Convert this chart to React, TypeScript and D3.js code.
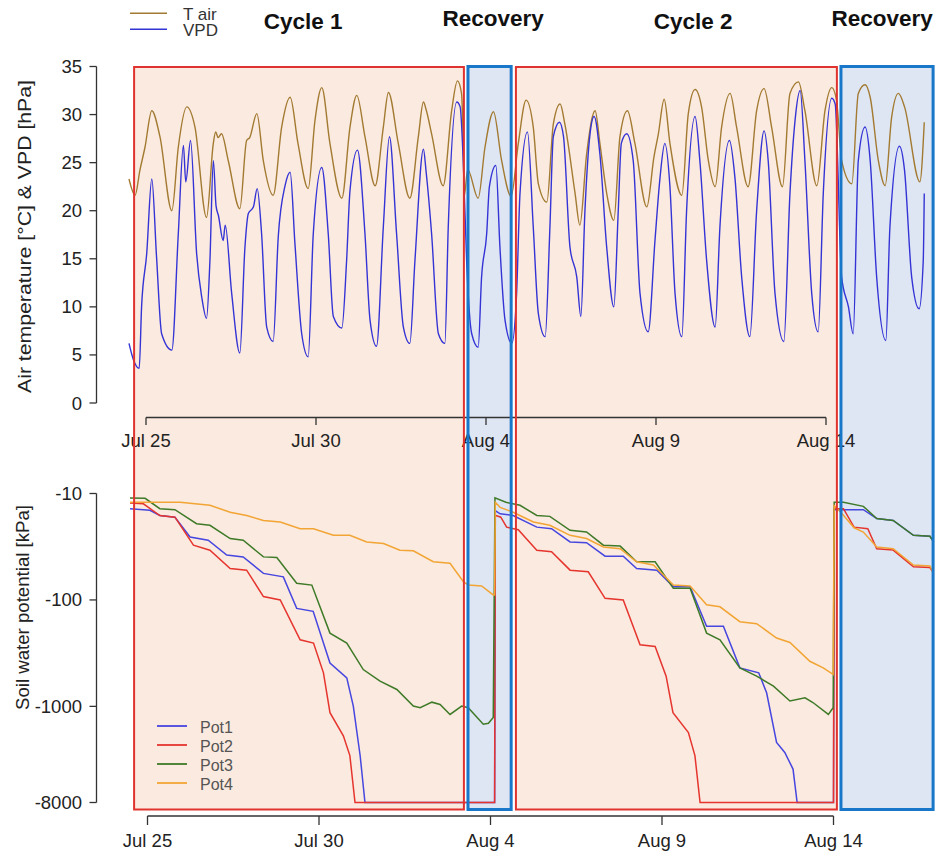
import React from 'react';
import * as d3 from 'd3';

const W = 938;
const H = 854;
const START = new Date(2019, 6, 25);
const toDate = (d: number) => new Date(START.getTime() + d * 86400000);

// time = days since Jul 25 00:00
const tairData: [number, number][] = [
  [-0.5,23.3],[-0.32,21.6],[-0.18,24.2],[-0.03,26.6],[0.17,30.4],[0.41,27.7],[0.76,20.0],[0.95,26.6],[1.2,30.8],[1.44,28.7],[1.78,19.3],[1.98,27.0],[2.05,28.2],[2.12,27.6],[2.22,28.0],[2.42,25.2],[2.76,20.2],[2.96,27.3],[3.05,27.6],[3.26,30.1],[3.45,25.2],[3.74,21.6],[3.99,28.7],[4.24,31.8],[4.47,27.0],[4.77,22.3],[4.97,29.4],[5.17,32.8],[5.41,27.0],[5.76,21.3],[6.0,28.7],[6.2,32.0],[6.44,27.7],[6.74,22.6],[6.98,28.7],[7.13,32.3],[7.42,27.0],[7.76,21.3],[8.01,27.7],[8.16,31.3],[8.24,30.5],[8.4,28.0],[8.74,22.6],[8.99,30.4],[9.16,33.5],[9.28,32.2],[9.33,27.0],[9.36,21.5],[9.46,24.3],[9.77,21.3],[9.97,26.6],[10.22,30.3],[10.46,25.2],[10.74,21.5],[10.95,27.0],[11.18,31.5],[11.39,28.7],[11.54,22.8],[11.79,20.9],[11.98,29.0],[12.18,31.1],[12.32,29.0],[12.62,21.8],[12.76,18.5],[12.96,25.9],[13.21,30.4],[13.35,27.0],[13.55,21.8],[13.76,19.0],[13.94,27.7],[14.16,30.4],[14.38,27.0],[14.73,20.4],[14.94,25.6],[15.07,28.0],[15.24,31.6],[15.41,27.0],[15.76,21.6],[15.95,30.1],[16.15,32.6],[16.34,30.8],[16.54,25.2],[16.74,22.5],[16.93,28.7],[17.18,32.2],[17.37,28.7],[17.71,22.5],[17.96,30.4],[18.18,32.7],[18.4,28.7],[18.72,22.5],[18.94,32.2],[19.19,33.4],[19.38,30.4],[19.73,22.6],[19.97,30.4],[20.17,32.8],[20.31,31.5],[20.46,25.2],[20.76,22.8],[20.95,32.2],[21.15,33.1],[21.3,31.8],[21.54,25.2],[21.74,22.6],[21.93,29.7],[22.13,32.2],[22.31,30.8],[22.76,23.0],[22.89,29.2],
];

const vpdData: [number, number][] = [
  [-0.5,6.2],[-0.37,4.5],[-0.2,3.6],[-0.13,10.0],[0.02,15.5],[0.17,23.3],[0.31,15.2],[0.46,7.2],[0.76,5.5],[0.95,17.6],[1.1,26.8],[1.17,23.0],[1.31,27.3],[1.49,15.5],[1.64,11.0],[1.78,8.8],[1.88,14.8],[1.98,25.2],[2.06,20.5],[2.13,19.5],[2.27,16.9],[2.33,18.5],[2.52,11.4],[2.76,5.2],[2.91,16.2],[3.01,19.7],[3.16,20.4],[3.27,22.3],[3.4,17.6],[3.55,7.9],[3.74,6.4],[3.89,17.3],[4.09,22.6],[4.24,24.0],[4.38,16.6],[4.58,7.2],[4.77,4.8],[4.92,17.6],[5.17,24.5],[5.36,17.6],[5.51,9.0],[5.76,7.8],[5.9,14.8],[6.0,22.1],[6.22,26.3],[6.44,17.6],[6.59,8.6],[6.78,5.9],[6.98,18.3],[7.16,27.7],[7.37,17.6],[7.57,7.9],[7.76,6.2],[7.91,14.8],[8.16,26.4],[8.24,24.0],[8.4,17.6],[8.6,7.2],[8.79,6.2],[8.89,18.3],[9.14,31.3],[9.24,30.8],[9.33,25.2],[9.43,14.8],[9.58,7.2],[9.77,5.8],[9.87,13.1],[10.02,17.6],[10.1,22.5],[10.29,24.7],[10.41,16.2],[10.56,8.6],[10.76,6.2],[10.9,11.4],[11.0,21.8],[11.22,28.2],[11.39,18.3],[11.54,9.3],[11.74,6.9],[11.88,18.3],[11.98,27.7],[12.16,29.2],[12.28,27.7],[12.47,16.2],[12.67,13.1],[12.79,9.0],[12.91,20.0],[13.06,28.0],[13.18,29.8],[13.35,25.9],[13.55,16.2],[13.76,10.0],[13.89,20.0],[13.98,27.0],[14.14,28.0],[14.33,25.2],[14.53,11.4],[14.77,7.4],[14.97,16.9],[15.12,23.5],[15.26,27.0],[15.41,22.5],[15.56,11.4],[15.76,6.9],[15.9,20.0],[16.15,29.8],[16.29,25.2],[16.49,14.8],[16.74,7.9],[16.88,18.3],[17.16,27.3],[17.32,23.5],[17.52,13.1],[17.76,6.9],[17.96,20.0],[18.18,28.3],[18.3,25.2],[18.5,11.4],[18.76,6.4],[18.94,21.8],[19.09,29.4],[19.24,32.5],[19.38,25.2],[19.58,11.4],[19.77,7.4],[19.92,21.8],[20.17,31.7],[20.27,31.1],[20.46,13.1],[20.66,10.0],[20.8,7.2],[20.95,25.2],[21.15,28.7],[21.3,25.2],[21.49,13.1],[21.76,6.5],[21.88,18.3],[22.16,26.7],[22.31,24.2],[22.52,13.1],[22.74,9.8],[22.86,14.8],[22.89,21.8],
];

// soil water potential magnitude [kPa] (plotted as negative)
const pot1Data: [number, number][] = [
  [-0.51,13.9],[0.07,14.4],[0.36,16.1],[0.8,16.7],[1.24,25.6],[1.77,27.5],[2.31,37.9],[2.79,39.4],[3.38,56.3],[3.96,60.7],[4.35,120],[4.83,128],[5.32,391],[5.81,540],[6.0,993],[6.2,2910],[6.34,8000],[10.12,8000],[10.14,14.5],[10.28,15.5],[10.66,16.1],[11.35,20.7],[11.78,21.4],[12.32,28.5],[12.8,29.0],[13.34,38.8],[13.87,38.8],[14.26,50.6],[14.85,52.5],[15.33,75],[15.82,75],[16.3,177],[16.79,177],[17.27,435],[17.82,484],[18.05,745],[18.34,2180],[18.58,2710],[18.82,3880],[18.94,8000],[20.0,8000],[20.02,14.2],[20.87,14.2],[21.26,17.2],[21.74,17.9],[22.33,24.7],[22.81,25.2],[22.89,27.5],
];
const pot2Data: [number, number][] = [
  [-0.51,12.3],[-0.12,12.5],[0.36,16.1],[0.8,16.7],[1.34,30.6],[1.82,34.1],[2.41,50.6],[2.89,52.5],[3.38,93],[3.87,100],[4.45,237],[4.84,254],[5.13,484],[5.32,1145],[5.71,1890],[5.9,2900],[6.05,8000],[10.12,8000],[10.14,16.0],[10.3,16.7],[10.47,20.7],[10.81,21.9],[11.35,34.1],[11.78,35.3],[12.32,52.5],[12.85,54.4],[13.34,96.5],[13.87,100],[14.36,264],[14.8,274],[15.12,520],[15.32,1145],[15.77,1760],[15.96,2900],[16.11,8000],[20.0,8000],[20.02,13.9],[20.29,13.9],[20.6,20.7],[21.0,21.4],[21.26,33],[21.74,34],[22.33,48.8],[22.81,49.6],[22.89,54],
];
const pot3Data: [number, number][] = [
  [-0.51,11.0],[-0.07,11.1],[0.36,13.9],[0.8,14.2],[1.43,19.2],[1.82,19.9],[2.41,26.5],[2.79,27.5],[3.38,39.4],[3.77,40],[4.35,69.8],[4.79,72.5],[5.32,205],[5.81,254],[6.29,451],[6.78,580],[7.27,694],[7.75,993],[7.95,1030],[8.29,913],[8.53,960],[8.82,1190],[9.16,993],[9.35,1030],[9.79,1470],[9.94,1440],[10.08,1270],[10.13,11.0],[10.45,12.1],[10.86,12.9],[11.35,16.1],[11.73,16.4],[12.32,22.2],[12.8,23],[13.29,30.6],[13.78,31.2],[14.26,43.8],[14.8,43.8],[15.33,77.8],[15.82,77.8],[16.3,205],[16.69,237],[17.27,435],[17.76,520],[18.25,645],[18.73,890],[19.17,830],[19.4,920],[19.85,1190],[19.99,1030],[20.02,12.1],[20.29,12.1],[20.87,13.2],[21.26,17.2],[21.74,17.9],[22.33,24.7],[22.81,25.2],[22.89,27.5],
];
const pot4Data: [number, number][] = [
  [-0.51,12.1],[0.95,12.1],[1.82,12.9],[2.41,15.0],[2.89,16.1],[3.38,17.9],[3.87,18.5],[4.45,21.4],[4.84,21.4],[5.42,24.7],[5.9,24.7],[6.39,28.5],[6.88,29.5],[7.36,34.1],[7.75,34.5],[8.33,43.8],[8.82,45.3],[9.21,67.4],[9.35,72.5],[9.74,74],[10.08,89.8],[10.12,89.8],[10.14,12.1],[10.28,13.5],[10.66,15.0],[11.25,18.5],[11.73,19.9],[12.32,24.7],[12.8,26.5],[13.29,31.8],[13.78,33],[14.26,43.8],[14.75,47],[15.33,72.5],[15.82,74],[16.3,111],[16.69,116],[17.27,160],[17.76,167],[18.34,228],[18.73,251],[19.31,377],[19.7,435],[19.99,501],[20.02,13.0],[20.29,16],[20.6,21],[20.87,23],[21.26,31.8],[21.74,33],[22.33,47],[22.81,48],[22.89,54],
];

const topYTicks = [0, 5, 10, 15, 20, 25, 30, 35];
const soilYTicks = [10, 100, 1000, 8000];
const dateTicks = [0, 5, 10, 15, 20];
const dateTickLabels = ['Jul 25', 'Jul 30', 'Aug 4', 'Aug 9', 'Aug 14'];

const periodNames = ['Cycle 1', 'Recovery', 'Cycle 2', 'Recovery'];
const periodKinds = ['drought', 'recovery', 'drought', 'recovery'];
const periodStart = [-0.35, 9.47, 10.88, 20.44];
const periodEnd = [9.35, 10.74, 20.32, 23.15];
const periodTitleAt = [4.62, 10.21, 16.09, 21.65];

const climateNames = ['T air', 'VPD'];
const potNames = ['Pot1', 'Pot2', 'Pot3', 'Pot4'];

const C_TAIR = '#A27A32';
const C_VPD = '#3434D6';
const POT_COLORS = ['#4646E0', '#E5352E', '#3E7A28', '#F2A535'];
const FONT = '"Liberation Sans", Arial, sans-serif';

export default function App() {
  const xTop = d3.scaleTime().domain([toDate(0), toDate(20)]).range([146, 826]);
  const yTop = d3.scaleLinear().domain([0, 35]).range([403, 66.5]);
  const xBot = d3.scaleTime().domain([toDate(0), toDate(20)]).range([147.5, 833.5]);
  const yBot = d3.scaleLog().domain([10, 8000]).range([493.5, 802.5]);

  const topLine = d3
    .line<[number, number]>()
    .x((d) => xTop(toDate(d[0])))
    .y((d) => yTop(d[1]))
    .curve(d3.curveMonotoneX);
  const botLine = d3
    .line<[number, number]>()
    .x((d) => xBot(toDate(d[0])))
    .y((d) => yBot(d[1]));

  const pots = [pot1Data, pot2Data, pot3Data, pot4Data];
  const boxTop = 67;
  const boxBottom = 809.5;
  const axisColor = '#333';

  return (
    <svg
      width={W}
      height={H}
      style={{ position: 'absolute', left: 0, top: 0, background: '#fff' }}
      fontFamily={FONT}
    >
      {periodStart.map((s, i) => {
        const x0 = xTop(toDate(s));
        const x1 = xTop(toDate(periodEnd[i]));
        return (
          <rect
            key={'f' + i}
            x={x0}
            y={boxTop}
            width={x1 - x0}
            height={boxBottom - boxTop}
            fill={periodKinds[i] === 'drought' ? '#FBEADF' : '#DFE6F3'}
          />
        );
      })}

      <g stroke={axisColor} strokeWidth={1.3} fill="none">
        <line x1={96.5} x2={96.5} y1={yTop(0)} y2={yTop(35)} />
        {topYTicks.map((t) => (
          <line key={t} x1={89.5} x2={96.5} y1={yTop(t)} y2={yTop(t)} />
        ))}
      </g>
      {topYTicks.map((t) => (
        <text key={'l' + t} x={82} y={yTop(t) + 6.5} textAnchor="end" fontSize={18.5} fill="#222">
          {t}
        </text>
      ))}

      <g stroke={axisColor} strokeWidth={1.3} fill="none">
        <line x1={xTop(toDate(0))} x2={xTop(toDate(20))} y1={417.5} y2={417.5} />
        {dateTicks.map((t) => (
          <line key={t} x1={xTop(toDate(t))} x2={xTop(toDate(t))} y1={417.5} y2={425} />
        ))}
      </g>
      {dateTicks.map((t, i) => (
        <text key={'tx' + t} x={xTop(toDate(t))} y={446.5} textAnchor="middle" fontSize={18.5} fill="#222">
          {dateTickLabels[i]}
        </text>
      ))}

      <g stroke={axisColor} strokeWidth={1.3} fill="none">
        <line x1={96.5} x2={96.5} y1={yBot(10)} y2={yBot(8000)} />
        {soilYTicks.map((t) => (
          <line key={t} x1={89.5} x2={96.5} y1={yBot(t)} y2={yBot(t)} />
        ))}
      </g>
      {soilYTicks.map((t) => (
        <text key={'sl' + t} x={82} y={yBot(t) + 6.5} textAnchor="end" fontSize={18.5} fill="#222">
          {'-' + t}
        </text>
      ))}

      <g stroke={axisColor} strokeWidth={1.3} fill="none">
        <line x1={xBot(toDate(0))} x2={xBot(toDate(20))} y1={816} y2={816} />
        {dateTicks.map((t) => (
          <line key={t} x1={xBot(toDate(t))} x2={xBot(toDate(t))} y1={816} y2={825} />
        ))}
      </g>
      {dateTicks.map((t, i) => (
        <text key={'bx' + t} x={xBot(toDate(t))} y={847} textAnchor="middle" fontSize={18.5} fill="#222">
          {dateTickLabels[i]}
        </text>
      ))}

      <path d={topLine(tairData) || ''} fill="none" stroke={C_TAIR} strokeWidth={1.4} />
      <path d={topLine(vpdData) || ''} fill="none" stroke={C_VPD} strokeWidth={1.4} />

      {pots.map((p, i) => (
        <path key={'pot' + i} d={botLine(p) || ''} fill="none" stroke={POT_COLORS[i]} strokeWidth={1.5} />
      ))}

      {periodStart.map((s, i) => {
        const x0 = xTop(toDate(s));
        const x1 = xTop(toDate(periodEnd[i]));
        const rec = periodKinds[i] === 'recovery';
        return (
          <rect
            key={'o' + i}
            x={x0}
            y={rec ? boxTop - 0.5 : boxTop}
            width={x1 - x0}
            height={boxBottom - boxTop + (rec ? 0.5 : 0)}
            fill="none"
            stroke={rec ? '#1877C8' : '#E0322F'}
            strokeWidth={rec ? 3 : 2}
          />
        );
      })}

      {periodNames.map((n, i) => (
        <text
          key={'pt' + i}
          x={xTop(toDate(periodTitleAt[i]))}
          y={periodKinds[i] === 'recovery' ? 26 : 28.5}
          textAnchor="middle"
          fontSize={22.5}
          fontWeight="bold"
          fill="#111"
        >
          {n}
        </text>
      ))}

      {climateNames.map((n, i) => (
        <g key={'cl' + i}>
          <line x1={130} x2={167} y1={13.3 + i * 16} y2={13.3 + i * 16} stroke={i === 0 ? C_TAIR : C_VPD} strokeWidth={1.5} />
          <text x={183} y={19.5 + i * 16.5} fontSize={17} fill="#333">
            {n}
          </text>
        </g>
      ))}

      {potNames.map((n, i) => (
        <g key={'pl' + i}>
          <line x1={157} x2={187} y1={726 + i * 19} y2={726 + i * 19} stroke={POT_COLORS[i]} strokeWidth={1.8} />
          <text x={200} y={733 + i * 19} fontSize={16} fill="#555">
            {n}
          </text>
        </g>
      ))}

      <text
        transform="translate(31,236.5) rotate(-90)"
        textAnchor="middle"
        fontSize={18}
        fill="#222"
        textLength={313}
        lengthAdjust="spacingAndGlyphs"
      >
        Air temperature [°C] &amp; VPD [hPa]
      </text>
      <text
        transform="translate(29,607.5) rotate(-90)"
        textAnchor="middle"
        fontSize={18}
        fill="#222"
        textLength={205}
        lengthAdjust="spacingAndGlyphs"
      >
        Soil water potential [kPa]
      </text>
    </svg>
  );
}
